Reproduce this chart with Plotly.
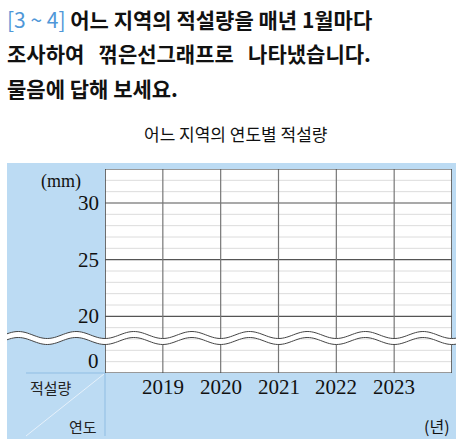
import numpy as np
import plotly.graph_objects as go

years = ["2019", "2020", "2021", "2022", "2023"]
year_pos = [1, 2, 3, 4, 5]
y_major = [20, 25, 30]
y_labels = ["20", "25", "30"]
zero_label_pos = 16.1

W, H = 474, 446
L, R, T, B = 105, 452, 169, 373
def px(x): return (x - L) / (R - L)
def py(y): return (B - y) / (B - T)

fig = go.Figure()
fig.add_trace(go.Scatter(x=[0, 6], y=[15, 33], mode="markers", marker=dict(opacity=0), hoverinfo="skip", showlegend=False))

shapes = []
blue = "#bcdbf3"
shapes.append(dict(type="rect", xref="paper", yref="paper", x0=px(7), x1=px(456), y0=py(439), y1=py(163),
                   fillcolor=blue, line=dict(width=0), layer="below"))
shapes.append(dict(type="rect", xref="paper", yref="paper", x0=0, x1=1, y0=0, y1=1,
                   fillcolor="white", line=dict(width=0), layer="below"))
for v in range(15, 34):
    if v in y_major:
        continue
    shapes.append(dict(type="line", xref="x", yref="y", x0=0, x1=6, y0=v, y1=v, line=dict(color="#dcdcdc", width=1)))
for v in y_major:
    shapes.append(dict(type="line", xref="x", yref="y", x0=0, x1=6, y0=v, y1=v, line=dict(color="#555", width=1.2)))
for xv in range(0, 7):
    shapes.append(dict(type="line", xref="x", yref="y", x0=xv, x1=xv, y0=15, y1=33, line=dict(color="#777", width=1.2)))
shapes.append(dict(type="rect", xref="x", yref="y", x0=0, x1=6, y0=15, y1=33, line=dict(color="#444", width=1.2)))
xs = np.linspace(7, 456, 200)
period = (R - L) / 6
ys = 338 + 3.5 * np.sin((xs - L) / period * 2 * np.pi + np.pi / 2)
def path(off):
    return "M " + " L ".join(f"{px(a):.4f},{py(b + off):.4f}" for a, b in zip(xs, ys))
band = "M " + " L ".join(f"{px(a):.4f},{py(b - 3):.4f}" for a, b in zip(xs, ys)) + " L " + \
       " L ".join(f"{px(a):.4f},{py(b + 3):.4f}" for a, b in zip(xs[::-1], ys[::-1])) + " Z"
shapes.append(dict(type="path", xref="paper", yref="paper", path=band, fillcolor="white", line=dict(width=0)))
shapes.append(dict(type="path", xref="paper", yref="paper", path=path(-3), line=dict(color="#444", width=1)))
shapes.append(dict(type="path", xref="paper", yref="paper", path=path(3), line=dict(color="#444", width=1)))
lc = "#e6f1fb"
shapes.append(dict(type="line", xref="paper", yref="paper", x0=px(26), x1=px(105), y0=py(373), y1=py(373), line=dict(color="#8fbde3", width=1)))
shapes.append(dict(type="line", xref="paper", yref="paper", x0=px(105), x1=px(105), y0=py(373), y1=py(436), line=dict(color="#8fbde3", width=1)))
shapes.append(dict(type="line", xref="paper", yref="paper", x0=px(26), x1=px(104), y0=py(436), y1=py(374), line=dict(color=lc, width=1)))

serif = "Liberation Serif"
kr = "Noto Sans CJK KR"
ann = []
def A(**k):
    k.setdefault("xanchor", "center")
    k.setdefault("yanchor", "middle")
    k.setdefault("showarrow", False)
    ann.append(k)
for y, t in zip(years, year_pos):
    A(x=t, y=py(387), xref="x", yref="paper", text=y, font=dict(family=serif, size=21, color="#111"))
for v, t in zip(y_major, y_labels):
    A(x=0, y=v, xref="paper", yref="y", xshift=-4, xanchor="right", text=t, font=dict(family=serif, size=21, color="#111"))
A(x=0, y=zero_label_pos, xref="paper", yref="y", xshift=-4, xanchor="right", text="0", font=dict(family=serif, size=21, color="#111"))
A(x=px(61), y=py(181), xref="paper", yref="paper", text="(mm)", font=dict(family=serif, size=18, color="#111"))
A(x=px(437), y=py(426), xref="paper", yref="paper", text="(년)", font=dict(family=kr, size=16, color="#111"))
A(x=px(51), y=py(387), xref="paper", yref="paper", text="적설량", font=dict(family=kr, size=15, color="#222"))
A(x=px(83), y=py(426), xref="paper", yref="paper", text="연도", font=dict(family=kr, size=15, color="#222"))
A(x=px(236), y=py(133), xref="paper", yref="paper", text="어느 지역의 연도별 적설량", font=dict(family=kr, size=17, color="#111"))
hdr = dict(family=kr, size=21, color="#111")
A(x=px(5), y=py(19), xref="paper", yref="paper", xanchor="left", font=hdr,
  text="<span style='color:#4f97d8'>[3 ~ 4]</span> <b>어느 지역의 적설량을 매년 1월마다</b>")
A(x=px(5), y=py(53), xref="paper", yref="paper", xanchor="left", font=hdr,
  text="<b>조사하여   꺾은선그래프로   나타냈습니다.</b>")
A(x=px(5), y=py(88), xref="paper", yref="paper", xanchor="left", font=hdr,
  text="<b>물음에 답해 보세요.</b>")

fig.update_layout(width=W, height=H, margin=dict(l=L, r=W - R, t=T, b=H - B),
                  paper_bgcolor="white", plot_bgcolor="rgba(0,0,0,0)", shapes=shapes, annotations=ann,
                  xaxis=dict(range=[0, 6], showgrid=False, zeroline=False, showticklabels=False, fixedrange=True),
                  yaxis=dict(range=[15, 33], showgrid=False, zeroline=False, showticklabels=False, fixedrange=True))
fig.write_html("out.html", config={"displayModeBar": False})
with open("out.html", encoding="utf-8") as f:
    html = f.read()
html = html.replace("<body>", "<body style=\"margin:0;overflow:hidden\">", 1)
with open("out.html", "w", encoding="utf-8") as f:
    f.write(html)
